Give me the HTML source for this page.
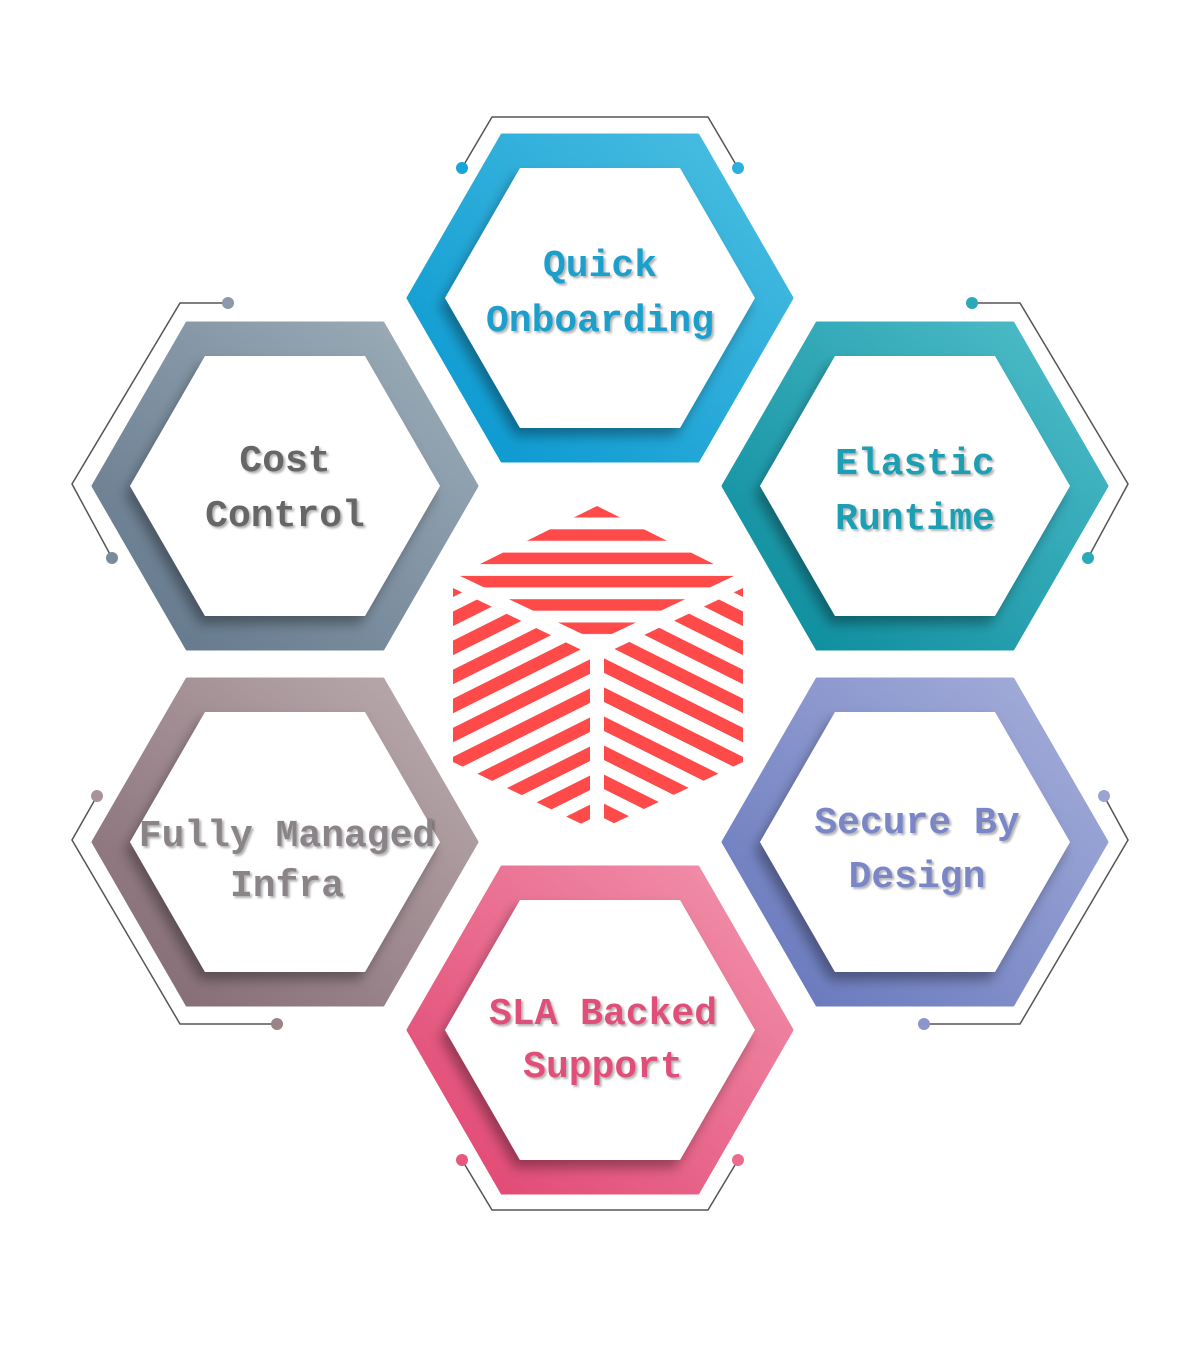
<!DOCTYPE html>
<html><head><meta charset="utf-8"><style>
html,body{margin:0;padding:0;background:#fff;}
svg{display:block;}
text{font-family:"Liberation Mono",monospace;font-weight:bold;font-size:38px;text-anchor:middle;}
</style></head><body>
<svg width="1180" height="1350" viewBox="0 0 1180 1350" xmlns="http://www.w3.org/2000/svg">
<defs>
<linearGradient id="gBlue" x1="0" y1="1" x2="1" y2="0"><stop offset="0" stop-color="#0596d0"/><stop offset="1" stop-color="#4ec0e2"/></linearGradient>
<linearGradient id="gTeal" x1="0" y1="1" x2="1" y2="0"><stop offset="0" stop-color="#07899a"/><stop offset="1" stop-color="#52bfcb"/></linearGradient>
<linearGradient id="gGray" x1="0" y1="1" x2="1" y2="0"><stop offset="0" stop-color="#5f7489"/><stop offset="1" stop-color="#a0b0bb"/></linearGradient>
<linearGradient id="gMauve" x1="0" y1="1" x2="1" y2="0"><stop offset="0" stop-color="#806670"/><stop offset="1" stop-color="#bcaeb0"/></linearGradient>
<linearGradient id="gPurple" x1="0" y1="1" x2="1" y2="0"><stop offset="0" stop-color="#6374ba"/><stop offset="1" stop-color="#a8b1dc"/></linearGradient>
<linearGradient id="gPink" x1="0" y1="1" x2="1" y2="0"><stop offset="0" stop-color="#e0426f"/><stop offset="1" stop-color="#f295ae"/></linearGradient>
<filter id="sh" x="-20%" y="-20%" width="140%" height="140%"><feDropShadow dx="-5" dy="8" stdDeviation="6" flood-color="#000" flood-opacity="0.35"/></filter>
<filter id="ts"><feDropShadow dx="2" dy="2" stdDeviation="1" flood-color="#000" flood-opacity="0.3"/></filter>
<pattern id="pH" patternUnits="userSpaceOnUse" width="400" height="23.3" y="506"><rect x="0" y="0" width="400" height="11.5" fill="#ff4a4a"/></pattern>
<pattern id="pL" patternUnits="userSpaceOnUse" width="400" height="26" patternTransform="translate(453,578) rotate(-26.57)"><rect x="-200" y="4" width="800" height="13" fill="#ff4a4a"/></pattern>
<pattern id="pR" patternUnits="userSpaceOnUse" width="400" height="26" patternTransform="translate(743,578) rotate(26.57)"><rect x="-200" y="4" width="800" height="13" fill="#ff4a4a"/></pattern>
</defs>

<g fill="none" stroke="#555" stroke-width="1.5" stroke-linejoin="round">
<polyline points="462,168 492,117 708,117 738,168"/>
<polyline points="228,303 180,303 72,484 112,558"/>
<polyline points="972,303 1020,303 1128,484 1088,558"/>
<polyline points="97,796 72,840 180,1024 277,1024"/>
<polyline points="1104,796 1128,840 1020,1024 924,1024"/>
<polyline points="462,1160 492,1210 708,1210 738,1160"/>
</g>
<g>
<circle cx="462" cy="168" r="6" fill="#1aa5d8"/><circle cx="738" cy="168" r="6" fill="#2bb0dc"/>
<circle cx="228" cy="303" r="6" fill="#8a9aaa"/><circle cx="112" cy="558" r="6" fill="#7a8c9c"/>
<circle cx="972" cy="303" r="6" fill="#2aaab8"/><circle cx="1088" cy="558" r="6" fill="#2aaab8"/>
<circle cx="97" cy="796" r="6" fill="#a89498"/><circle cx="277" cy="1024" r="6" fill="#9a8488"/>
<circle cx="1104" cy="796" r="6" fill="#9aa4d4"/><circle cx="924" cy="1024" r="6" fill="#8a96cc"/>
<circle cx="462" cy="1160" r="6" fill="#e8587e"/><circle cx="738" cy="1160" r="6" fill="#ec6a8e"/>
</g>

<g stroke-linejoin="round">
<polygon points="408,298 502,135 698,135 792,298 698,461 502,461" fill="url(#gBlue)" stroke="url(#gBlue)" stroke-width="3"/>
<polygon points="445,298 520,168 680,168 755,298 680,428 520,428" fill="#fff" filter="url(#sh)"/>
<polygon points="93,486 187,323 383,323 477,486 383,649 187,649" fill="url(#gGray)" stroke="url(#gGray)" stroke-width="3"/>
<polygon points="130,486 205,356 365,356 440,486 365,616 205,616" fill="#fff" filter="url(#sh)"/>
<polygon points="723,486 817,323 1013,323 1107,486 1013,649 817,649" fill="url(#gTeal)" stroke="url(#gTeal)" stroke-width="3"/>
<polygon points="760,486 835,356 995,356 1070,486 995,616 835,616" fill="#fff" filter="url(#sh)"/>
<polygon points="93,842 187,679 383,679 477,842 383,1005 187,1005" fill="url(#gMauve)" stroke="url(#gMauve)" stroke-width="3"/>
<polygon points="130,842 205,712 365,712 440,842 365,972 205,972" fill="#fff" filter="url(#sh)"/>
<polygon points="723,842 817,679 1013,679 1107,842 1013,1005 817,1005" fill="url(#gPurple)" stroke="url(#gPurple)" stroke-width="3"/>
<polygon points="760,842 835,712 995,712 1070,842 995,972 835,972" fill="#fff" filter="url(#sh)"/>
<polygon points="408,1030 502,867 698,867 792,1030 698,1193 502,1193" fill="url(#gPink)" stroke="url(#gPink)" stroke-width="3"/>
<polygon points="445,1030 520,900 680,900 755,1030 680,1160 520,1160" fill="#fff" filter="url(#sh)"/>
</g>

<polygon points="597,506 736,575 597,641 458,575" fill="url(#pH)"/>
<polygon points="453,588 590,654 590,828 453,762" fill="url(#pL)"/>
<polygon points="743,588 604,654 604,828 743,762" fill="url(#pR)"/>

<g filter="url(#ts)">
<text x="600" y="276" fill="#1a9fcb" font-size="37">Quick</text>
<text x="600" y="331" fill="#1a9fcb" font-size="37">Onboarding</text>
<text x="285" y="471" fill="#666" font-size="37">Cost</text>
<text x="285" y="526" fill="#666" font-size="37">Control</text>
<text x="915" y="474" fill="#1a9fb2" font-size="37">Elastic</text>
<text x="915" y="529" fill="#1a9fb2" font-size="37">Runtime</text>
<text x="287" y="846" fill="#8a8488" font-size="35">Fully Managed</text>
<text x="287" y="896" fill="#8a8488" font-size="35">Infra</text>
<text x="917" y="833" fill="#7a86c6" font-size="37">Secure By</text>
<text x="917" y="887" fill="#7a86c6" font-size="37">Design</text>
<text x="603" y="1024" fill="#e0507a" font-size="37">SLA Backed</text>
<text x="603" y="1077" fill="#e0507a" font-size="37">Support</text>
</g>
</svg>
</body></html>
